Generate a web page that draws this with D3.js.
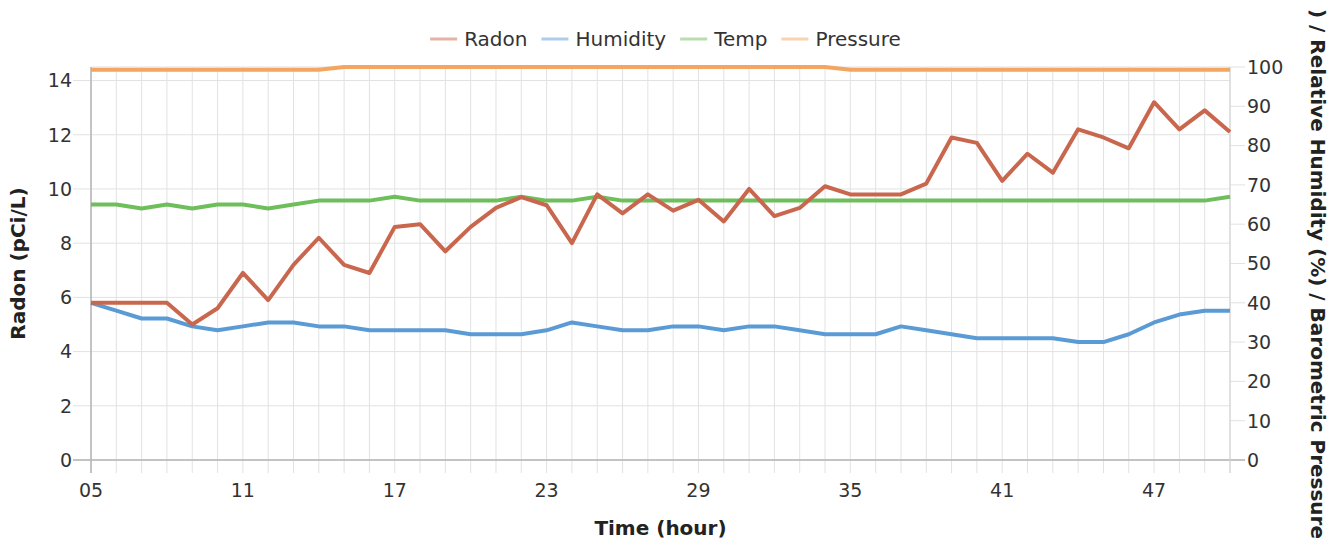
<!DOCTYPE html>
<html>
<head>
<meta charset="utf-8">
<script src="https://cdn.jsdelivr.net/npm/d3@7"></script>
<style>
  html, body { margin: 0; padding: 0; background: #fff; overflow: hidden; }
  svg { display: block; font-family: "DejaVu Sans", sans-serif; }
</style>
</head>
<body>
<svg id="chart" width="1338" height="541"></svg>
<script>
// ---------- data ----------
const hours = ["05","06","07","08","09","10","11","12","13","14","15","16","17","18","19","20",
  "21","22","23","24","25","26","27","28","29","30","31","32","33","34","35","36","37","38",
  "39","40","41","42","43","44","45","46","47","48","49","50"];
const xTickLabels = ["05","11","17","23","29","35","41","47"];
const leftTicks = [0,2,4,6,8,10,12,14];
const rightTicks = [0,10,20,30,40,50,60,70,80,90,100];

const radon = [5.8,5.8,5.8,5.8,5.0,5.6,6.9,5.9,7.2,8.2,7.2,6.9,8.6,8.7,7.7,8.6,
  9.3,9.7,9.4,8.0,9.8,9.1,9.8,9.2,9.6,8.8,10.0,9.0,9.3,10.1,9.8,9.8,9.8,10.2,
  11.9,11.7,10.3,11.3,10.6,12.2,11.9,11.5,13.2,12.2,12.9,12.1];
const humidity = [40,38,36,36,34,33,34,35,35,34,34,33,33,33,33,32,
  32,32,33,35,34,33,33,34,34,33,34,34,33,32,32,32,34,33,
  32,31,31,31,31,30,30,32,35,37,38,38];
const temp = [65,65,64,65,64,65,65,64,65,66,66,66,67,66,66,66,
  66,67,66,66,67,66,66,66,66,66,66,66,66,66,66,66,66,66,
  66,66,66,66,66,66,66,66,66,66,66,67];
const pressure = [99.3,99.3,99.3,99.3,99.3,99.3,99.3,99.3,99.3,99.3,100,100,100,100,100,100,
  100,100,100,100,100,100,100,100,100,100,100,100,100,100,99.3,99.3,99.3,99.3,
  99.3,99.3,99.3,99.3,99.3,99.3,99.3,99.3,99.3,99.3,99.3,99.3];

const seriesNames = ["Radon","Humidity","Temp","Pressure"];
const seriesColors = ["#c9674e","#5b9bd5","#6fbe5c","#f4a661"];

// ---------- layout ----------
const svg = d3.select("#chart");
const pLeft = 91, pRight = 1230, pTop = 67, pBottom = 460;
const x = d3.scalePoint().domain(hours).range([pLeft, pRight]);
const yL = d3.scaleLinear().domain([0, 14.5]).range([pBottom, pTop]);
const yR = d3.scaleLinear().domain([0, 100]).range([pBottom, pTop]);

const gridColor = "#e2e2e2";
const axisColor = "#b4b4b4";
const textColor = "#333";
const tickFont = 19, titleFont = 20, legendFont = 20;

// clip for the right axis title (the reference shows it cropped at the top)
svg.append("defs").append("clipPath").attr("id", "rtClip")
  .append("rect").attr("x", 1280).attr("y", 8).attr("width", 58).attr("height", 533);

// vertical grid lines (one per hour, extending below axis)
svg.append("g").selectAll("line").data(hours).join("line")
  .attr("x1", d => x(d)).attr("x2", d => x(d))
  .attr("y1", pTop).attr("y2", pBottom + 13)
  .attr("stroke", gridColor).attr("stroke-width", 1);

// horizontal grid lines from left ticks
svg.append("g").selectAll("line").data(leftTicks).join("line")
  .attr("x1", pLeft - 18).attr("x2", pRight)
  .attr("y1", d => yL(d)).attr("y2", d => yL(d))
  .attr("stroke", gridColor).attr("stroke-width", 1);

// top border line
svg.append("line").attr("x1", pLeft).attr("x2", pRight).attr("y1", pTop).attr("y2", pTop)
  .attr("stroke", gridColor);

// right ticks
svg.append("g").selectAll("line").data(rightTicks).join("line")
  .attr("x1", pRight).attr("x2", pRight + 15)
  .attr("y1", d => yR(d)).attr("y2", d => yR(d))
  .attr("stroke", gridColor).attr("stroke-width", 1);

// axis lines
svg.append("line").attr("x1", pLeft).attr("x2", pLeft).attr("y1", pTop).attr("y2", pBottom + 13)
  .attr("stroke", axisColor).attr("stroke-width", 1.5);
svg.append("line").attr("x1", pLeft - 18).attr("x2", pRight + 15).attr("y1", pBottom).attr("y2", pBottom)
  .attr("stroke", axisColor).attr("stroke-width", 1.5);
svg.append("line").attr("x1", pRight).attr("x2", pRight).attr("y1", pTop).attr("y2", pBottom + 13)
  .attr("stroke", "#d0d0d0").attr("stroke-width", 1);

// tick labels
svg.append("g").selectAll("text").data(leftTicks).join("text")
  .attr("x", 72).attr("y", d => yL(d)).attr("dy", "0.36em")
  .attr("text-anchor", "end").attr("font-size", tickFont).attr("fill", textColor)
  .text(d => d);
svg.append("g").selectAll("text").data(rightTicks).join("text")
  .attr("x", 1247).attr("y", d => yR(d)).attr("dy", "0.36em")
  .attr("text-anchor", "start").attr("font-size", tickFont).attr("fill", textColor)
  .text(d => d);
svg.append("g").selectAll("text").data(xTickLabels).join("text")
  .attr("x", d => x(d)).attr("y", 497)
  .attr("text-anchor", "middle").attr("font-size", tickFont).attr("fill", textColor)
  .text(d => d);

// axis titles
svg.append("text")
  .attr("transform", `translate(25,${(pTop + pBottom) / 2}) rotate(-90)`)
  .attr("text-anchor", "middle").attr("font-size", titleFont).attr("font-weight", "bold")
  .attr("fill", "#222").text("Radon (pCi/L)");
svg.append("text")
  .attr("x", (pLeft + pRight) / 2).attr("y", 535)
  .attr("text-anchor", "middle").attr("font-size", titleFont).attr("font-weight", "bold")
  .attr("fill", "#222").text("Time (hour)");

const rtPrefix = "Temperature (F";
const rtFull = "Temperature (F) / Relative Humidity (%) / Barometric Pressure (kPa)";
const measure = svg.append("text").attr("font-size", titleFont).attr("font-weight", "bold").text(rtPrefix);
const prefixLen = measure.node().getComputedTextLength();
measure.remove();
svg.append("g").attr("clip-path", "url(#rtClip)")
  .append("text")
  .attr("transform", `translate(1311,${9 - prefixLen}) rotate(90)`)
  .attr("text-anchor", "start").attr("font-size", titleFont).attr("font-weight", "bold")
  .attr("fill", "#222").text(rtFull);

// lines
const lineL = d3.line().x((d, i) => x(hours[i])).y(d => yL(d));
const lineR = d3.line().x((d, i) => x(hours[i])).y(d => yR(d));
const plotData = [
  {vals: radon, gen: lineL},
  {vals: humidity, gen: lineR},
  {vals: temp, gen: lineR},
  {vals: pressure, gen: lineR}
];
[3, 2, 1, 0].forEach(i => {
  svg.append("path")
    .attr("d", plotData[i].gen(plotData[i].vals))
    .attr("fill", "none")
    .attr("stroke", seriesColors[i])
    .attr("stroke-width", 4)
    .attr("stroke-linejoin", "round")
    .attr("stroke-linecap", "butt");
});

// legend (centered)
const legend = svg.append("g");
const swW = 27, swGap = 7, itemGap = 14;
const items = [];
let lx = 0;
seriesNames.forEach((name, i) => {
  const sw = legend.append("line").attr("y1", 39).attr("y2", 39)
    .attr("stroke", seriesColors[i]).attr("stroke-width", 3).attr("stroke-opacity", 0.5);
  const t = legend.append("text").attr("y", 39).attr("dy", "0.36em")
    .attr("font-size", legendFont).attr("fill", textColor).text(name);
  const w = t.node().getComputedTextLength();
  items.push({sw, t, x0: lx});
  lx += swW + swGap + w + itemGap;
});
const totalW = lx - itemGap;
const startX = 665.5 - totalW / 2;
items.forEach(it => {
  it.sw.attr("x1", startX + it.x0).attr("x2", startX + it.x0 + swW);
  it.t.attr("x", startX + it.x0 + swW + swGap);
});
</script>
</body>
</html>
